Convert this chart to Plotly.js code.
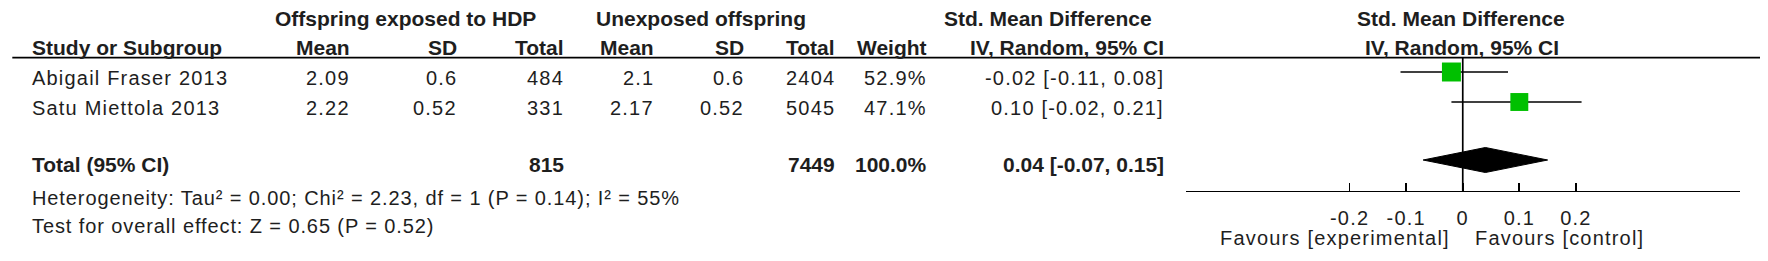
<!DOCTYPE html>
<html>
<head>
<meta charset="utf-8">
<script src="https://cdn.plot.ly/plotly-3.0.1.min.js"></script>
<style>
  html, body { margin: 0; padding: 0; background: #fff; }
  #chart { width: 1768px; height: 261px; }
</style>
</head>
<body>
<div id="chart"></div>
<script>
// ---------------- data ----------------
const studies = ['Abigail Fraser 2013', 'Satu Miettola 2013'];
const expMean = [2.09, 2.22];
const expSD = [0.6, 0.52];
const expTotal = [484, 331];
const ctlMean = [2.1, 2.17];
const ctlSD = [0.6, 0.52];
const ctlTotal = [2404, 5045];
const weights = [52.9, 47.1];
const smd = [-0.02, 0.10];
const ciLow = [-0.11, -0.02];
const ciHigh = [0.08, 0.21];
const totalSMD = 0.04;
const totalLow = -0.07;
const totalHigh = 0.15;
const hetStats = { tau2: '0.00', chi2: '2.23', df: 1, p: '0.14', i2: 55 };
const overall = { z: '0.65', p: '0.52' };
const tickVals = [-0.2, -0.1, 0, 0.1, 0.2];
const tickLabels = ['-0.2', '-0.1', '0', '0.1', '0.2'];
const favourLeft = 'Favours [experimental]';
const favourRight = 'Favours [control]';

// ---------------- layout constants ----------------
const W = 1768, H = 261;
const FONT = 'Arial, "Liberation Sans", sans-serif';
const TXT = '#1e1e1e';
const rowMarkY = [72, 102];
const rowTextY = [77.8, 107.5];
const totalMarkY = 160, diamondHalf = 12.5;
const headerLineY = 57.7, axisY = 190.7;

const sp = (s, ls) => '<span style="letter-spacing:' + (ls || 1.2) + 'px">' + s + '</span>';
const annotations = [];
function ann(text, xPx, yPx, anchor, bold, ls) {
  annotations.push({
    text: bold ? text : sp(text, ls),
    xref: 'paper', x: xPx / W,
    yref: 'y', y: yPx,
    xanchor: anchor, yanchor: 'middle',
    showarrow: false,
    font: { family: FONT, size: bold ? 21 : 20, color: TXT, weight: bold ? 'bold' : 'normal' }
  });
}

// headers
ann('Offspring exposed to HDP', 405, 18.8, 'center', true);
ann('Unexposed offspring', 701, 18.8, 'center', true);
ann('Std. Mean Difference', 1048, 18.8, 'center', true);
ann('Std. Mean Difference', 1461.3, 18.8, 'center', true);
const colR = { em: 351.7, es: 459, et: 566, cm: 656, cs: 746, ct: 837, w: 929, ci: 1166 };
ann('Study or Subgroup', 30, 47.2, 'left', true);
ann('Mean', colR.em, 47.2, 'right', true);
ann('SD', colR.es, 47.2, 'right', true);
ann('Total', colR.et, 47.2, 'right', true);
ann('Mean', colR.cm, 47.2, 'right', true);
ann('SD', colR.cs, 47.2, 'right', true);
ann('Total', colR.ct, 47.2, 'right', true);
ann('Weight', colR.w, 47.2, 'right', true);
ann('IV, Random, 95% CI', colR.ci, 47.2, 'right', true);
ann('IV, Random, 95% CI', 1461.7, 47.2, 'center', true);

// study rows
const f2 = v => v.toFixed(2);
studies.forEach((s, i) => {
  const y = rowTextY[i];
  ann(s, 30, y, 'left', false);
  ann(String(expMean[i]), colR.em, y, 'right', false);
  ann(String(expSD[i]), colR.es, y, 'right', false);
  ann(String(expTotal[i]), colR.et, y, 'right', false);
  ann(String(ctlMean[i]), colR.cm, y, 'right', false);
  ann(String(ctlSD[i]), colR.cs, y, 'right', false);
  ann(String(ctlTotal[i]), colR.ct, y, 'right', false);
  ann(weights[i].toFixed(1) + '%', colR.w, y, 'right', false);
  ann(f2(smd[i]) + ' [' + f2(ciLow[i]) + ', ' + f2(ciHigh[i]) + ']', colR.ci, y, 'right', false);
});

// total row
const sum = a => a.reduce((p, c) => p + c, 0);
ann('Total (95% CI)', 30, 164.5, 'left', true);
ann(String(sum(expTotal)), colR.et, 164.5, 'right', true);
ann(String(sum(ctlTotal)), colR.ct, 164.5, 'right', true);
ann(sum(weights).toFixed(1) + '%', colR.w, 164.5, 'right', true);
ann(f2(totalSMD) + ' [' + f2(totalLow) + ', ' + f2(totalHigh) + ']', colR.ci, 164.5, 'right', true);

ann('Heterogeneity: Tau\u00b2 = ' + hetStats.tau2 + '; Chi\u00b2 = ' + hetStats.chi2 + ', df = ' + hetStats.df +
    ' (P = ' + hetStats.p + '); I\u00b2 = ' + hetStats.i2 + '%', 30, 197.5, 'left', false, 0.9);
ann('Test for overall effect: Z = ' + overall.z + ' (P = ' + overall.p + ')', 30, 225.8, 'left', false, 0.9);

ann(favourLeft, 1452.3, 238.3, 'right', false);
ann(favourRight, 1473.3, 238.3, 'left', false);

// ---------------- traces ----------------
const studyTrace = {
  type: 'scatter', mode: 'markers',
  x: smd, y: rowMarkY,
  marker: { symbol: 'square', color: '#00c000', opacity: 1, size: weights.map(w => 2.61 * Math.sqrt(w)), line: { width: 0 } },
  error_x: {
    type: 'data', symmetric: false,
    array: smd.map((v, i) => ciHigh[i] - v),
    arrayminus: smd.map((v, i) => v - ciLow[i]),
    color: '#000', thickness: 1.7, width: 0
  },
  hoverinfo: 'skip', cliponaxis: false
};
const diamond = {
  type: 'scatter', mode: 'lines',
  x: [totalLow, totalSMD, totalHigh, totalSMD, totalLow],
  y: [totalMarkY, totalMarkY - diamondHalf, totalMarkY, totalMarkY + diamondHalf, totalMarkY],
  fill: 'toself', fillcolor: '#000', line: { color: '#000', width: 1 },
  hoverinfo: 'skip', cliponaxis: false
};

const layout = {
  width: W, height: H,
  margin: { l: 0, r: 0, t: 0, b: 0, pad: 0 },
  paper_bgcolor: '#fff', plot_bgcolor: 'rgba(0,0,0,0)',
  showlegend: false,
  xaxis: {
    domain: [1185.5 / W, 1740 / W], range: [-0.49, 0.49],
    anchor: 'free', position: 1 - axisY / H, side: 'bottom',
    showline: true, linecolor: '#000', linewidth: 1.7,
    ticks: 'inside', ticklen: 8, tickwidth: 1.7, tickcolor: '#000',
    tickvals: tickVals, ticktext: tickLabels.map(t => sp(t)),
    tickfont: { family: FONT, size: 20, color: TXT },
    ticklabelstandoff: 9,
    showgrid: false, zeroline: false, fixedrange: true
  },
  yaxis: { domain: [0, 1], range: [H, 0], visible: false, fixedrange: true },
  shapes: [
    { type: 'line', layer: 'below', xref: 'paper', x0: 12.3 / W, x1: 1760 / W, yref: 'y', y0: headerLineY, y1: headerLineY,
      line: { color: '#000', width: 1.7 } },
    { type: 'line', layer: 'below', xref: 'x', x0: 0, x1: 0, yref: 'y', y0: headerLineY, y1: axisY,
      line: { color: '#000', width: 1.7 } }
  ],
  annotations: annotations
};

Plotly.newPlot('chart', [studyTrace, diamond], layout, { staticPlot: true, displayModeBar: false });
</script>
</body>
</html>
